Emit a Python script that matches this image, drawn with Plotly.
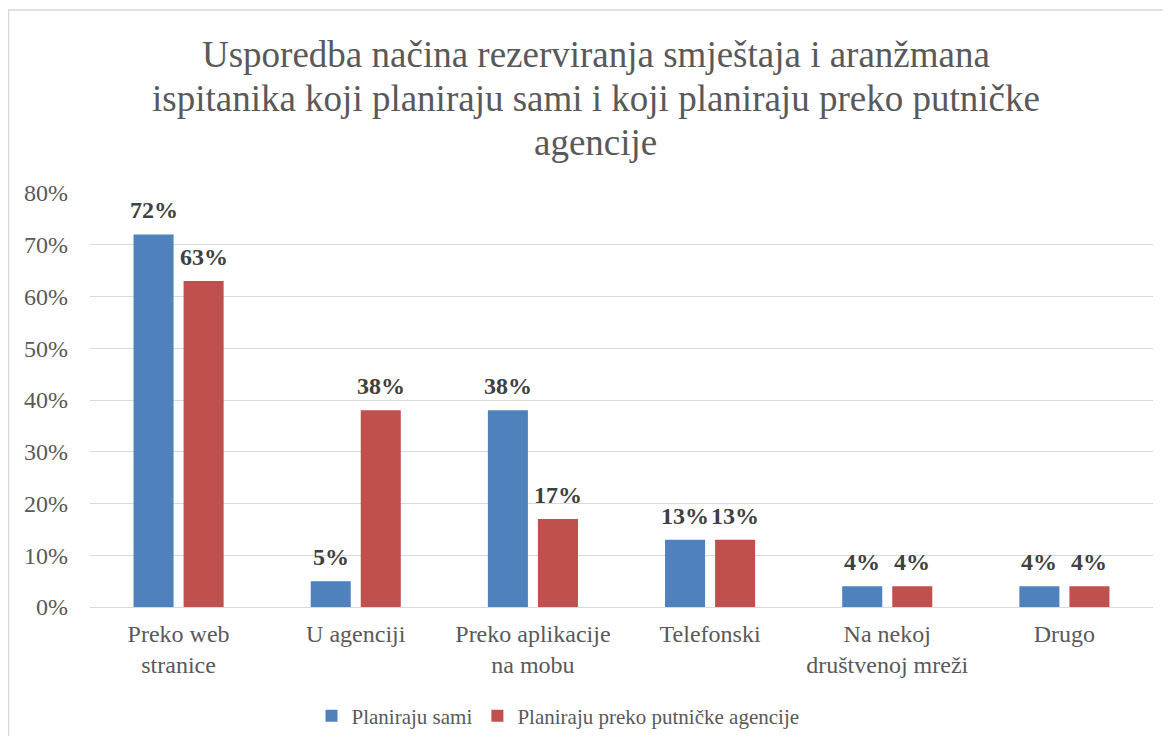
import plotly.graph_objects as go

categories = ["Preko web<br>stranice", "U agenciji", "Preko aplikacije<br>na mobu", "Telefonski",
              "Na nekoj<br>društvenoj mreži", "Drugo"]
sami = [0.72, 0.05, 0.38, 0.13, 0.04, 0.04]
agencija = [0.63, 0.38, 0.17, 0.13, 0.04, 0.04]
series_names = ["Planiraju sami", "Planiraju preko putničke agencije"]
title_lines = ["Usporedba načina rezerviranja smještaja i aranžmana",
               "ispitanika koji planiraju sami i koji planiraju preko putničke",
               "agencije"]

OFF = 8  # page body margin
W, H = 1171 - 2 * OFF, 744 - 2 * OFF
L, R, T, B = 90 - OFF, W - (1153 - OFF), 193 - OFF, H - (607 - OFF)
pw, ph = W - L - R, H - T - B

font_family = "Liberation Serif"
colors = ["#4f81bd", "#c0504d"]

def px(x):
    """reference pixel x -> paper"""
    return (x - OFF - L) / pw

def py(y):
    """reference pixel y -> paper"""
    return (H - B - (y - OFF)) / ph

fig = go.Figure()
for name, vals, col in [(series_names[0], sami, colors[0]), (series_names[1], agencija, colors[1])]:
    fig.add_trace(go.Bar(x=categories, y=vals, name=name, marker_color=col,
                         marker_line_width=0))

annotations = []
for vals, shift in [(sami, -25), (agencija, 25)]:
    for c, v in zip(categories, vals):
        annotations.append(dict(x=c, y=v, xref="x", yref="y", text=f"<b>{round(v * 100)}%</b>",
                                showarrow=False, xshift=shift, yanchor="bottom", yshift=9,
                                font=dict(family=font_family, size=24, color="#404040")))

for line, yc in zip(title_lines, [54, 98.5, 142.5]):
    annotations.append(dict(x=px(595.5), y=py(yc), xref="paper", yref="paper", text=line,
                            showarrow=False, xanchor="center", yanchor="middle",
                            font=dict(family=font_family, size=37, color="#595959")))

fig.add_shape(type="rect", xref="paper", yref="paper",
              x0=px(OFF + 0.5), x1=px(1200), y0=py(10), y1=py(800),
              line=dict(color="#d9d9d9", width=1.5), layer="below")

fig.update_layout(
    width=W, height=H,
    margin=dict(l=L, r=R, t=T, b=B, autoexpand=False),
    paper_bgcolor="white", plot_bgcolor="white",
    barmode="group", bargap=0.435, bargroupgap=0.2,
    font=dict(family=font_family, color="#595959"),
    showlegend=True,
    legend=dict(orientation="h", x=px(558), xanchor="center", xref="paper",
                y=py(716), yref="paper", yanchor="middle",
                font=dict(family=font_family, size=21, color="#595959"),
                traceorder="normal"),
    annotations=annotations,
)
fig.update_yaxes(range=[0, 0.8], dtick=0.1, tickformat=".0%",
                 tickfont=dict(family=font_family, size=24, color="#595959"),
                 showgrid=True, gridcolor="#d9d9d9", gridwidth=1.3,
                 zeroline=True, zerolinecolor="#d9d9d9", zerolinewidth=1.3,
                 showline=False, ticks="", ticklabelstandoff=21)
fig.update_xaxes(tickfont=dict(family=font_family, size=24, color="#595959"),
                 showline=False, ticks="", ticklabelstandoff=10)

fig.write_html("out.html")
